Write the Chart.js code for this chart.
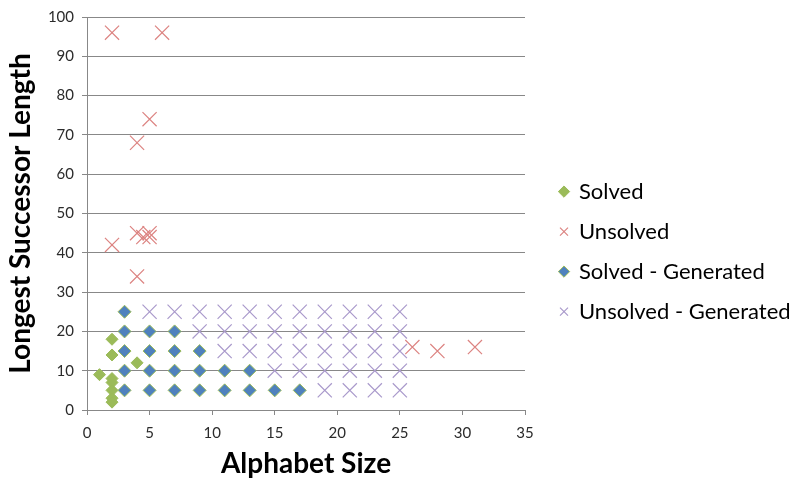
<!DOCTYPE html>
<html>
<head>
<meta charset="utf-8">
<script src="https://cdn.jsdelivr.net/npm/chart.js@4.4.1/dist/chart.umd.min.js"></script>
<style>
  html, body { margin: 0; padding: 0; background: #ffffff; }
  #wrap { width: 800px; height: 481px; }
</style>
</head>
<body>
<div id="wrap"><canvas id="c" width="800" height="481"></canvas></div>
<script>
// ---- data ----
const xTitle = 'Alphabet Size';
const yTitle = 'Longest Successor Length';

const solvedLabel = 'Solved';
const solvedX = [1, 2, 2, 2, 2, 2, 2, 2, 4];
const solvedY = [9, 18, 14, 8, 7, 5, 3, 2, 12];

const unsolvedLabel = 'Unsolved';
const unsolvedX = [2, 6, 5, 4, 4, 4.5, 5, 5, 2, 4, 26, 28, 31];
const unsolvedY = [96, 96, 74, 68, 45, 44, 45, 44, 42, 34, 16, 15, 16];

const solvedGenLabel = 'Solved - Generated';
const solvedGenX = [3, 3, 3, 3, 3, 5, 5, 5, 5, 7, 7, 7, 7, 9, 9, 9, 11, 11, 13, 13, 15, 17];
const solvedGenY = [5, 10, 15, 20, 25, 5, 10, 15, 20, 5, 10, 15, 20, 5, 10, 15, 5, 10, 5, 10, 5, 5];

const unsolvedGenLabel = 'Unsolved - Generated';
const unsolvedGenX = [
  5, 7, 9, 11, 13, 15, 17, 19, 21, 23, 25,
  9, 11, 13, 15, 17, 19, 21, 23, 25,
  11, 13, 15, 17, 19, 21, 23, 25,
  15, 17, 19, 21, 23, 25,
  19, 21, 23, 25
];
const unsolvedGenY = [
  25, 25, 25, 25, 25, 25, 25, 25, 25, 25, 25,
  20, 20, 20, 20, 20, 20, 20, 20, 20,
  15, 15, 15, 15, 15, 15, 15, 15,
  10, 10, 10, 10, 10, 10,
  5, 5, 5, 5
];

const xMin = 0, xMax = 35, xStep = 5;
const yMin = 0, yMax = 100, yStep = 10;

// ---- build ----
function pts(xs, ys) { return xs.map((x, i) => ({ x: x, y: ys[i] })); }

const GREEN = '#9BBB59', BLUE = '#4F81BD', RED = '#DC8381', PURPLE = '#A999CB';
const FONT = 'Lato, "Open Sans", sans-serif';
const LEGEND_W = 258;

const datasets = [
  { label: solvedLabel, data: pts(solvedX, solvedY), pointStyle: 'rectRot', pointRadius: 6, pointHoverRadius: 6,
    backgroundColor: GREEN, borderColor: GREEN, borderWidth: 1 },
  { label: unsolvedLabel, data: pts(unsolvedX, unsolvedY), pointStyle: 'crossRot', pointRadius: 10, pointHoverRadius: 10,
    backgroundColor: RED, borderColor: RED, borderWidth: 1.2 },
  { label: solvedGenLabel, data: pts(solvedGenX, solvedGenY), pointStyle: 'rectRot', pointRadius: 6.5, pointHoverRadius: 6.5,
    backgroundColor: BLUE, borderColor: GREEN, borderWidth: 1 },
  { label: unsolvedGenLabel, data: pts(unsolvedGenX, unsolvedGenY), pointStyle: 'crossRot', pointRadius: 10, pointHoverRadius: 10,
    backgroundColor: PURPLE, borderColor: PURPLE, borderWidth: 1.2 }
];

// keep the right-hand legend at a fixed width so the plot area ends where the reference does
const legendWidthPlugin = {
  id: 'legendWidth',
  beforeLayout(chart) {
    const lg = chart.legend;
    if (lg && !lg.__fixedWidth) {
      const origFit = lg.fit;
      lg.fit = function () { origFit.call(this); this.width = LEGEND_W; };
      lg.__fixedWidth = true;
    }
  }
};

new Chart(document.getElementById('c'), {
  type: 'scatter',
  data: { datasets: datasets },
  plugins: [legendWidthPlugin],
  options: {
    responsive: false,
    animation: false,
    devicePixelRatio: 1,
    layout: { padding: { left: 0, right: 0, top: 17, bottom: 0 } },
    plugins: {
      tooltip: { enabled: false },
      legend: {
        position: 'right',
        align: 'center',
        title: { display: true, text: ' ', font: { size: 1 }, padding: { top: 2, bottom: 2 } },
        labels: {
          usePointStyle: true,
          boxWidth: 8,
          boxHeight: 8,
          padding: 18,
          color: '#000000',
          font: { family: FONT, size: 22 }
        }
      }
    },
    scales: {
      x: {
        type: 'linear', min: xMin, max: xMax,
        ticks: { stepSize: xStep, color: '#2b2b2b', font: { family: FONT, size: 15 }, padding: 9 },
        grid: { display: true, drawOnChartArea: false, drawTicks: true, tickLength: 5, color: '#888888' },
        border: { display: true, color: '#888888', width: 1 },
        title: { display: true, text: xTitle, color: '#000000', font: { family: FONT, size: 28, weight: 'bold' }, padding: 0 },
        afterFit: function (s) { s.height = 71; }
      },
      y: {
        type: 'linear', min: yMin, max: yMax,
        ticks: { stepSize: yStep, color: '#2b2b2b', font: { family: FONT, size: 15 }, padding: 8 },
        grid: { display: true, drawOnChartArea: true, drawTicks: true, tickLength: 5, color: '#888888' },
        border: { display: true, color: '#888888', width: 1 },
        title: { display: true, text: yTitle, color: '#000000', font: { family: FONT, size: 28, weight: 'bold' }, padding: { top: 4, bottom: 0 } },
        afterFit: function (s) { s.width = 87; }
      },
      gap: {
        type: 'linear', axis: 'y', position: 'right', display: true,
        grid: { display: false }, border: { display: false }, ticks: { display: false },
        afterFit: function (s) { s.width = 17; }
      }
    }
  }
});
</script>
</body>
</html>
